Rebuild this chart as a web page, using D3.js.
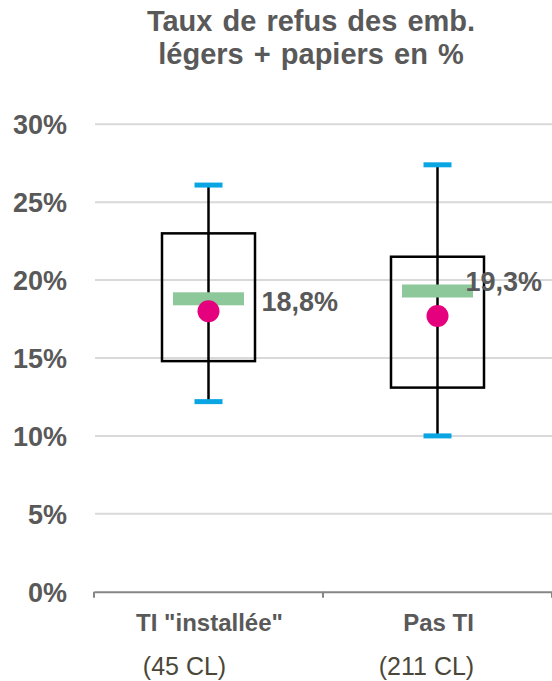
<!DOCTYPE html>
<html>
<head>
<meta charset="utf-8">
<script src="https://cdn.jsdelivr.net/npm/d3@7"></script>
<style>
  body { margin: 0; background: #fff; }
  svg text { font-family: "Liberation Sans", Arial, sans-serif; }
</style>
</head>
<body>
<svg id="chart" width="552" height="681"></svg>
<script>
// chart values
var categories = ['TI "installée"', 'Pas TI'];
var counts = ["(45 CL)", "(211 CL)"];
var whiskerLow = [12.2, 10.0];
var q1 = [14.8, 13.1];
var median = [18.8, 19.3];
var q3 = [23.0, 21.5];
var whiskerHigh = [26.1, 27.4];
var mean = [18.0, 17.7];
var medianLabels = ["18,8%", "19,3%"];
var yTicks = [0, 5, 10, 15, 20, 25, 30];

var svg = d3.select("#chart");
var grey = "#595959";

var x = d3.scaleBand().domain(categories).range([94, 552]).padding(0);
var y = d3.scaleLinear().domain([0, 30]).range([591.7, 124.3]);

// title
var title = svg.append("text")
    .attr("text-anchor", "middle")
    .attr("font-size", 29)
    .attr("font-weight", "bold")
    .attr("word-spacing", 2)
    .attr("fill", grey);
title.append("tspan").attr("x", 311).attr("y", 31).text("Taux de refus des emb.");
title.append("tspan").attr("x", 311).attr("y", 64).text("légers + papiers en %");

// grid
svg.append("g").selectAll("line")
    .data(yTicks.filter(function(d) { return d > 0; }))
    .enter().append("line")
    .attr("x1", 95).attr("x2", 552)
    .attr("y1", function(d) { return y(d); })
    .attr("y2", function(d) { return y(d); })
    .attr("stroke", "#d9d9d9")
    .attr("stroke-width", 2);

// y axis labels
var yAxis = svg.append("g")
    .attr("transform", "translate(67,0)")
    .call(d3.axisLeft(y).tickValues(yTicks).tickSize(0).tickFormat(function(d) { return d + "%"; }));
yAxis.select(".domain").remove();
yAxis.selectAll("text")
    .attr("font-size", 27)
    .attr("font-weight", "bold")
    .attr("fill", grey)
    .attr("font-family", "Liberation Sans, Arial, sans-serif")
    .attr("dy", "0.35em")
    .attr("x", 0);

// x axis
var xAxis = svg.append("g")
    .attr("transform", "translate(0," + y(0) + ")")
    .call(d3.axisBottom(x).tickSize(0).tickFormat(""));
xAxis.select(".domain").attr("stroke", "#868686").attr("stroke-width", 2);
var bounds = categories.map(function(c) { return x(c); }).concat([x.range()[1]]);
xAxis.selectAll(".sep")
    .data(bounds)
    .enter().append("line")
    .attr("x1", function(d) { return d; }).attr("x2", function(d) { return d; })
    .attr("y1", 0).attr("y2", 6)
    .attr("stroke", "#868686").attr("stroke-width", 2);

svg.append("g").selectAll("text")
    .data(categories)
    .enter().append("text")
    .attr("x", function(d) { return x(d) + x.bandwidth() / 2 + 1; })
    .attr("y", 631)
    .attr("text-anchor", "middle")
    .attr("font-size", 24)
    .attr("font-weight", "bold")
    .attr("fill", grey)
    .text(function(d) { return d; });

// second label line sits a bit left of the band centre in the original
var countDx = [-24, -11];
svg.append("g").selectAll("text")
    .data(counts)
    .enter().append("text")
    .attr("x", function(d, i) { return x(categories[i]) + x.bandwidth() / 2 + countDx[i]; })
    .attr("y", 675)
    .attr("text-anchor", "middle")
    .attr("font-size", 25)
    .attr("fill", "#4a4738")
    .text(function(d) { return d; });

// boxes
var boxW = 93, medW = 71, capW = 28;
var groups = svg.append("g").selectAll("g")
    .data(categories)
    .enter().append("g")
    .attr("transform", function(d) { return "translate(" + (x(d) + x.bandwidth() / 2) + ",0)"; });

groups.append("line")
    .attr("x1", 0).attr("x2", 0)
    .attr("y1", function(d, i) { return y(whiskerHigh[i]); })
    .attr("y2", function(d, i) { return y(whiskerLow[i]); })
    .attr("stroke", "#000").attr("stroke-width", 2.5);

groups.append("rect")
    .attr("x", -boxW / 2)
    .attr("width", boxW)
    .attr("y", function(d, i) { return y(q3[i]); })
    .attr("height", function(d, i) { return y(q1[i]) - y(q3[i]); })
    .attr("fill", "none")
    .attr("stroke", "#000").attr("stroke-width", 2.5);

groups.selectAll(".cap")
    .data(function(d, i) { return [whiskerHigh[i], whiskerLow[i]]; })
    .enter().append("line")
    .attr("class", "cap")
    .attr("x1", -capW / 2).attr("x2", capW / 2)
    .attr("y1", function(v) { return y(v); })
    .attr("y2", function(v) { return y(v); })
    .attr("stroke", "#0aa6e4").attr("stroke-width", 5);

groups.append("rect")
    .attr("x", -medW / 2)
    .attr("width", medW)
    .attr("y", function(d, i) { return y(median[i]) - 6.5; })
    .attr("height", 13)
    .attr("fill", "#8dc89b");

groups.append("circle")
    .attr("cx", 0)
    .attr("cy", function(d, i) { return y(mean[i]); })
    .attr("r", 11)
    .attr("fill", "#e5007d");

// median labels (placed like the original: right of box / overlapping box edge)
var labelDx = [53, 28], labelDy = [3, -9];
groups.append("text")
    .attr("x", function(d, i) { return labelDx[i]; })
    .attr("y", function(d, i) { return y(median[i]) + labelDy[i]; })
    .attr("dy", "0.35em")
    .attr("font-size", 27)
    .attr("font-weight", "bold")
    .attr("fill", grey)
    .text(function(d, i) { return medianLabels[i]; });
</script>
</body>
</html>
